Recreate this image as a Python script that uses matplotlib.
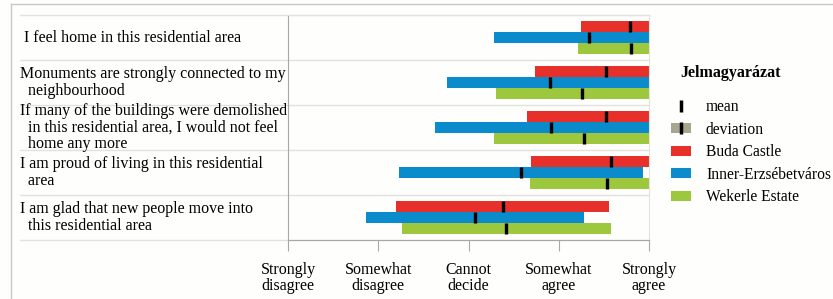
import matplotlib
matplotlib.use("Agg")
import matplotlib.pyplot as plt
from matplotlib.patches import Patch
from matplotlib.lines import Line2D
import numpy as np

plt.rcParams['font.family'] = ['Liberation Serif', 'DejaVu Serif']

# statements (top to bottom)
statements = [
    " I feel home in this residential area",
    "Monuments are strongly connected to my\n  neighbourhood",
    "If many of the buildings were demolished\n  in this residential area, I would not feel\n  home any more",
    "I am proud of living in this residential\n  area",
    "I am glad that new people move into\n  this residential area",
]
scale_labels = ["Strongly\ndisagree", "Somewhat\ndisagree", "Cannot\ndecide",
                "Somewhat\nagree", "Strongly\nagree"]

areas = ["Buda Castle", "Inner-Erzsébetváros", "Wekerle Estate"]
colors = ["#E8302A", "#0A8BCB", "#9DC73C"]

# mean and deviation per area, one value per statement
mean_buda = [4.79, 4.52, 4.52, 4.58, 3.38]
dev_buda = [0.54, 0.78, 0.875, 0.89, 1.18]
mean_inner = [4.335, 3.906, 3.91, 3.58, 3.07]
dev_inner = [1.055, 1.14, 1.28, 1.355, 1.205]
mean_wek = [4.80, 4.26, 4.28, 4.54, 3.42]
dev_wek = [0.59, 0.95, 1.0, 0.855, 1.16]

means = [mean_buda, mean_inner, mean_wek]
devs = [dev_buda, dev_inner, dev_wek]

FS = 11.5
W, H = 833, 299
fig = plt.figure(figsize=(W / 100, H / 100), dpi=100)
fig.patch.set_facecolor("#FEFEFC")

# axes in pixel terms: x 288..649, y 15..240
ax = fig.add_axes([288 / W, 1 - 240 / H, (649 - 288) / W, (240 - 15) / H])
ax.set_facecolor("#FEFEFC")
ax.set_xlim(1, 5)
ax.set_ylim(len(statements) - 0.5, -0.5)

bh = 0.245
offsets = [-bh, 0, bh]
y = np.arange(len(statements))
for k in range(3):
    m = np.array(means[k])
    d = np.array(devs[k])
    lo = np.clip(m - d, 1, 5)
    hi = np.clip(m + d, 1, 5)
    yy = y + offsets[k]
    ax.barh(yy, hi - lo, left=lo, height=bh, color=colors[k], zorder=2)
    ax.vlines(m, yy - bh / 2, yy + bh / 2, color="black", lw=2.4, zorder=3)

# row separators extending under the labels
sep_col = "#E2E2DE"
for b in np.arange(-0.5, len(statements) + 0.5, 1.0):
    ax.axhline(b, xmin=-0.742, xmax=1, color=sep_col, lw=1, clip_on=False, zorder=1)

for s in ["top", "right"]:
    ax.spines[s].set_color(sep_col)
ax.spines["left"].set_color("#A8A8A8")
ax.spines["bottom"].set_color("#A8A8A8")

ax.set_yticks([])
ax.set_xticks([1, 2, 3, 4, 5])
ax.set_xticklabels(scale_labels, fontsize=FS, linespacing=1.0)
ax.tick_params(axis="x", direction="out", length=8, color="#A8A8A8", pad=8)

for i, s in enumerate(statements):
    ax.text(-0.743 * 4 + 1, i, s, fontsize=FS, ha="left", va="center",
            linespacing=1.05, transform=ax.transData, clip_on=False)

# outer frame (left and top)
fig.add_artist(Line2D([11 / W, 11 / W], [0, 1 - 4 / H], color="#C8C8C8", lw=1))
fig.add_artist(Line2D([11 / W, 1], [1 - 4 / H, 1 - 4 / H], color="#C8C8C8", lw=1))

# legend
fig.text(680 / W, 1 - 73 / H, "Jelmagyarázat", fontsize=FS, fontweight="bold",
         ha="left", va="center")
mean_h = Line2D([], [], color="black", marker="|", linestyle="None",
                markersize=8, markeredgewidth=2.5)
dev_h = (Patch(facecolor="#A9A68E"), Line2D([], [], color="black", marker="|",
         linestyle="None", markersize=8, markeredgewidth=2.5))
handles = [mean_h, dev_h] + [Patch(facecolor=c) for c in colors]
labels = ["mean", "deviation"] + areas
fig.legend(handles, labels, loc="upper left",
           bbox_to_anchor=(671 / W, 1 - 99 / H), frameon=False, fontsize=11.2,
           handlelength=1.3, handleheight=0.6, handletextpad=0.95,
           labelspacing=0.42, borderpad=0, borderaxespad=0)

fig.savefig("out.png", dpi=100, facecolor=fig.get_facecolor())
